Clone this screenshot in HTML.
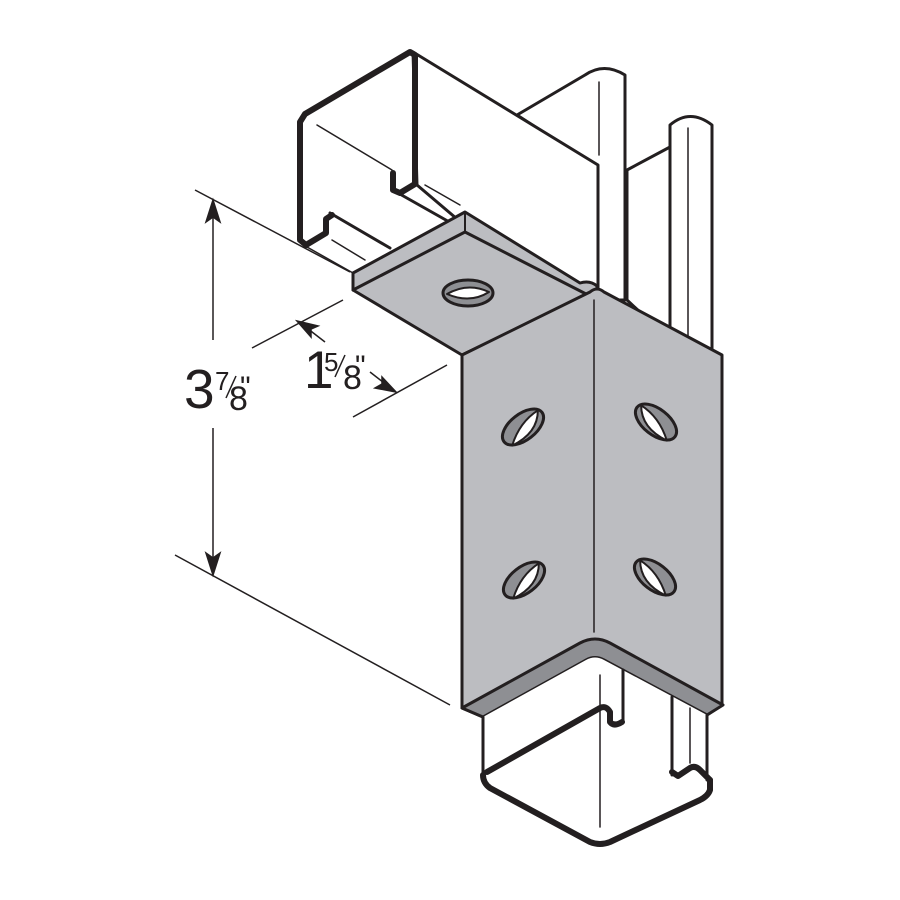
<!DOCTYPE html>
<html><head><meta charset="utf-8"><style>
html,body{margin:0;padding:0;background:#fff;}
svg{display:block}
text{font-family:"Liberation Sans",Arial,sans-serif;fill:#231f20}
</style></head><body>
<svg width="900" height="900" viewBox="0 0 900 900" xmlns="http://www.w3.org/2000/svg">
<g stroke="#231f20" stroke-linejoin="round" stroke-linecap="round" fill="none">
<path d="M517,115 L585,75 Q604,62 625,75 L625,300 L597,300 L597,167 Z" fill="#fff" stroke-width="3"/>
<line x1="599" y1="82" x2="599" y2="155" stroke-width="1.5"/>
<path d="M627,170 L670,147 L670,125 Q690,108 712,125 L712,355 L670,340 L627,300 Z" fill="#fff" stroke-width="3"/>
<line x1="688" y1="128" x2="688" y2="345" stroke-width="1.5"/>
<line x1="670" y1="147" x2="670" y2="340" stroke-width="3"/>
<path d="M413,52 L598,165 L598,300 L470,230 L417,185 Z" fill="#fff" stroke-width="3"/>
<path d="M330,213 L355,228 L355,275 L307,247 Z" fill="#fff" stroke="none"/>
<line x1="317" y1="125" x2="392" y2="170" stroke-width="1.5"/>
<line x1="398" y1="193" x2="460" y2="228" stroke-width="3"/>
<line x1="425" y1="185" x2="460" y2="205" stroke-width="1.5"/>
<line x1="330" y1="213" x2="390" y2="248" stroke-width="3"/>
<line x1="332" y1="240" x2="365" y2="260" stroke-width="1.5"/>
<line x1="307" y1="247" x2="353" y2="273" stroke-width="1.5"/>
<path d="M393,173 L393,190 L400,193 L415,184 L415,55 L410,52 L305,114 L300,122 L300,240 L306,245 L326,233 L326,219 L332,215" stroke-width="6"/>
<path d="M465,212 L353,273 L353,290 L462,355 L597,290 L597,286 Q590,280 580,283 Z" fill="#bcbdc1" stroke-width="3"/>
<path d="M353,290 L465,232 L590,296" stroke-width="3"/>
<line x1="465" y1="212" x2="465" y2="232" stroke-width="2"/>
<path d="M462,355 L590,292 Q597,286 604,292 L722,355 L722,705 L707,715 L604,660 Q595,655 586,660 L483,717 L462,708 Z" fill="#bcbdc1" stroke-width="3"/>
<line x1="594" y1="300" x2="594" y2="632" stroke-width="1.5"/>
<path d="M462,708 L580,643 Q595,635 610,643 L723,705 L707,715 L604,660 Q595,655 586,660 L483,717 Z" fill="#8e8f93" stroke-width="3"/>
<g stroke-width="3">
<ellipse cx="468" cy="293" rx="25" ry="13" fill="#8e8f93"/>
<path d="M447,294 Q468,282 489,292 Q470,304 447,294Z" fill="#fff" stroke-width="2"/>
<g transform="translate(523,427) rotate(-38)"><ellipse rx="24" ry="13" fill="#8e8f93"/><path d="M-20,8 Q0,-6 22,-4 Q8,14 -20,8Z" fill="#fff" stroke-width="2"/></g>
<g transform="translate(524,580) rotate(-38)"><ellipse rx="24" ry="13" fill="#8e8f93"/><path d="M-20,8 Q0,-6 22,-4 Q8,14 -20,8Z" fill="#fff" stroke-width="2"/></g>
<g transform="translate(656,422) rotate(38)"><ellipse rx="24" ry="13" fill="#8e8f93"/><path d="M-22,-4 Q0,-6 20,8 Q-8,14 -22,-4Z" fill="#fff" stroke-width="2"/></g>
<g transform="translate(655,577) rotate(38)"><ellipse rx="24" ry="13" fill="#8e8f93"/><path d="M-22,-4 Q0,-6 20,8 Q-8,14 -22,-4Z" fill="#fff" stroke-width="2"/></g>
</g>
<path d="M483,717 L586,660 Q595,655 604,660 L707,715 L710,780 L605,838 Q598,842 590,838 L483,777 Z" fill="#fff" stroke="none"/>
<line x1="483" y1="717" x2="483" y2="777" stroke-width="3"/>
<line x1="707" y1="715" x2="707" y2="780" stroke-width="3"/>
<line x1="623" y1="670" x2="623" y2="722" stroke-width="3"/>
<line x1="672" y1="697" x2="672" y2="775" stroke-width="3"/>
<line x1="690" y1="708" x2="690" y2="763" stroke-width="1.5"/>
<line x1="600" y1="675" x2="600" y2="827" stroke-width="1.5"/>
<path d="M487,772 L600,708 Q606,705 610,712 L610,722 Q614,727 622,722" stroke-width="6"/>
<path d="M672,772 L678,776 L690,768 Q695,765 700,770 L710,780" stroke-width="6"/>
<path d="M710,780 L710,790 Q708,796 700,800 L610,842 Q600,846 590,842 L490,788 Q483,783 483,775" stroke-width="6"/>
</g>
<g stroke="#231f20" stroke-width="1.5" fill="#231f20">
<line x1="195" y1="190" x2="350" y2="272"/>
<line x1="175" y1="555" x2="450" y2="705"/>
<line x1="213" y1="212" x2="213" y2="340"/>
<line x1="213" y1="428" x2="213" y2="562"/>
<path d="M213,200 L206,222 L213,217 L220,222 Z"/>
<path d="M213,575 L206,553 L213,558 L220,553 Z"/>
<line x1="252" y1="348" x2="343" y2="300"/>
<line x1="353" y1="417" x2="447" y2="365"/>
<line x1="303" y1="325" x2="325" y2="342"/>
<path d="M297,321 L318,326 L311,329 L311,337 Z"/>
<line x1="370" y1="372" x2="388" y2="386"/>
<path d="M396,392 L375,388 L382,384 L382,377 Z"/>
<line x1="226" y1="398" x2="236" y2="376"/>
<line x1="335" y1="377" x2="345" y2="355"/>
</g>
<text x="184" y="408" font-size="55">3</text>
<text x="215" y="390" font-size="26">7</text>
<text x="229" y="410" font-size="34">8</text>
<text x="240" y="397" font-size="30">"</text>
<text x="304" y="388" font-size="53">1</text>
<text x="324" y="371" font-size="26">5</text>
<text x="343" y="389" font-size="34">8</text>
<text x="355" y="376" font-size="30">"</text>
</svg>
</body></html>
